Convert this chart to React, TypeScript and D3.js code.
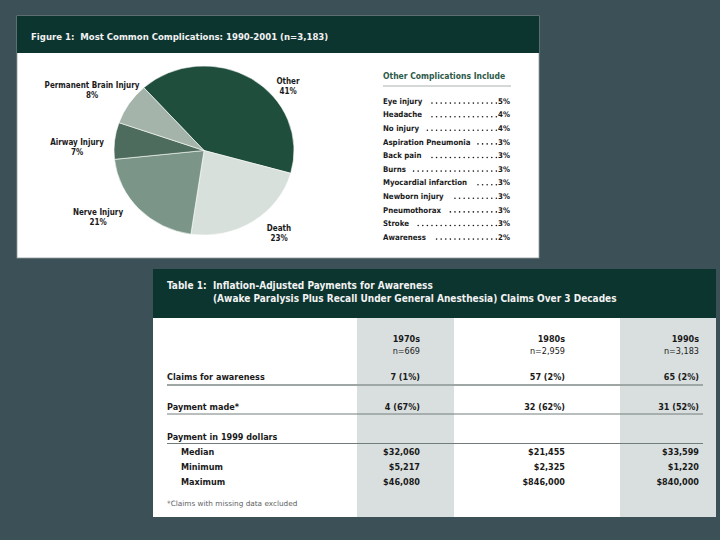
import { useEffect, useRef } from 'react';
import * as d3 from 'd3';

// pie data
const sliceNames = ['Other', 'Death', 'Nerve Injury', 'Airway Injury', 'Permanent Brain Injury'];
const sliceValues = [41, 23, 21, 7, 8];
const sliceColors = ['#1f4e3d', '#d7e0db', '#7b9688', '#4d6c5d', '#a4b4aa'];

// other complications list
const otherNames = [
  'Eye injury', 'Headache', 'No injury', 'Aspiration Pneumonia', 'Back pain', 'Burns',
  'Myocardial infarction', 'Newborn injury', 'Pneumothorax', 'Stroke', 'Awareness'
];
const otherValues = [5, 4, 4, 3, 3, 3, 3, 3, 3, 3, 2];

// table data
const decades = ['1970s', '1980s', '1990s'];
const decadeN = ['n=669', 'n=2,959', 'n=3,183'];
const claims = ['7 (1%)', '57 (2%)', '65 (2%)'];
const payments = ['4 (67%)', '32 (62%)', '31 (52%)'];
const medians = ['$32,060', '$21,455', '$33,599'];
const minimums = ['$5,217', '$2,325', '$1,220'];
const maximums = ['$46,080', '$846,000', '$840,000'];

const W = 720;
const H = 540;
const FONT = '"DejaVu Sans Condensed", "DejaVu Sans", sans-serif';
const FONT_WIDE = '"DejaVu Sans", sans-serif';

// label anchor points around the pie (layout only)
const labelAnchors: [number, number][] = [
  [288, 81], [279, 228], [98, 212], [77, 142], [92, 85]
];

export default function App() {
  const svgRef = useRef<SVGSVGElement>(null);

  useEffect(() => {
    if (!svgRef.current) return;
    const svg = d3.select(svgRef.current);
    svg.selectAll('*').remove();

    svg.append('rect').attr('width', W).attr('height', H).attr('fill', '#3c5157');

    // ---------- Figure 1 panel ----------
    const fig = { x: 17, y: 16, w: 522, h: 242, head: 37 };
    svg.append('rect')
      .attr('x', fig.x).attr('y', fig.y).attr('width', fig.w).attr('height', fig.h)
      .attr('fill', '#ffffff').attr('stroke', '#8f9a9a').attr('stroke-width', 0.8);
    svg.append('rect')
      .attr('x', fig.x).attr('y', fig.y).attr('width', fig.w).attr('height', fig.head)
      .attr('fill', '#0d3530');
    svg.append('text')
      .attr('x', 31).attr('y', 39.5)
      .attr('font-family', FONT).attr('font-weight', 'bold').attr('font-size', 9.5)
      .attr('fill', '#f2f2f2')
      .attr('xml:space', 'preserve')
      .text('Figure 1:  Most Common Complications: 1990-2001 (n=3,183)');

    // pie
    const cx = 204, cy = 150.5, r = 90;
    const startA = -42 * Math.PI / 180;
    const pie = d3.pie<number>().sort(null).value(d => d)
      .startAngle(startA).endAngle(startA + 2 * Math.PI);
    const arc = d3.arc<d3.PieArcDatum<number>>().innerRadius(0).outerRadius(r);
    const pg = svg.append('g').attr('transform', `translate(${cx},${cy}) scale(1,0.94)`);
    pg.selectAll('path')
      .data(pie(sliceValues))
      .enter()
      .append('path')
      .attr('d', arc)
      .attr('fill', (_, i) => sliceColors[i])
      .attr('stroke', '#ffffff')
      .attr('stroke-width', 0.6);

    const lg = svg.append('g')
      .attr('font-family', FONT).attr('font-weight', 'bold').attr('font-size', 8)
      .attr('fill', '#1a1a1a').attr('text-anchor', 'middle');
    sliceNames.forEach((name, i) => {
      const [lx, ly] = labelAnchors[i];
      lg.append('text').attr('x', lx).attr('y', ly + 3).text(name);
      lg.append('text').attr('x', lx).attr('y', ly + 13).text(`${sliceValues[i]}%`);
    });

    // other complications list
    const lx0 = 383, lx1 = 510;
    svg.append('text')
      .attr('x', lx0).attr('y', 79)
      .attr('font-family', FONT).attr('font-weight', 'bold').attr('font-size', 8.5)
      .attr('fill', '#2c5a49')
      .text('Other Complications Include');
    svg.append('line')
      .attr('x1', lx0).attr('x2', lx1 + 1).attr('y1', 86).attr('y2', 86)
      .attr('stroke', '#a9b2b0').attr('stroke-width', 1);

    const yList = d3.scalePoint<string>().domain(otherNames).range([101, 237]);
    const items = svg.append('g')
      .attr('font-family', FONT).attr('font-weight', 'bold').attr('font-size', 7.8)
      .attr('fill', '#1a1a1a');
    otherNames.forEach((name, i) => {
      const y = (yList(name) ?? 0) + 2.8;
      const t = items.append('text').attr('x', lx0).attr('y', y).text(name);
      const v = items.append('text').attr('x', lx1).attr('y', y)
        .attr('text-anchor', 'end').text(`${otherValues[i]}%`);
      const nameEnd = lx0 + (t.node() as SVGTextElement).getComputedTextLength() + 3;
      const valStart = lx1 - (v.node() as SVGTextElement).getComputedTextLength() - 1;
      const n = Math.floor((valStart - nameEnd) / 4.6);
      d3.range(n).forEach(k => {
        items.append('circle')
          .attr('cx', valStart - 0.7 - k * 4.6)
          .attr('cy', y - 0.7)
          .attr('r', 0.8)
          .attr('fill', '#1a1a1a');
      });
    });

    // ---------- Table 1 panel ----------
    const tb = { x: 153, y: 269, w: 563, h: 248, head: 49 };
    svg.append('rect')
      .attr('x', tb.x).attr('y', tb.y).attr('width', tb.w).attr('height', tb.h)
      .attr('fill', '#ffffff');
    svg.append('rect')
      .attr('x', tb.x).attr('y', tb.y).attr('width', tb.w).attr('height', tb.head)
      .attr('fill', '#0c3530');
    const th = svg.append('g')
      .attr('font-family', FONT).attr('font-weight', 'bold').attr('font-size', 10)
      .attr('fill', '#f2f2f2');
    th.append('text').attr('x', 167).attr('y', 288.5).text('Table 1:');
    th.append('text').attr('x', 213).attr('y', 288.5).text('Inflation-Adjusted Payments for Awareness');
    th.append('text').attr('x', 213).attr('y', 301.5)
      .text('(Awake Paralysis Plus Recall Under General Anesthesia) Claims Over 3 Decades');

    // shaded columns
    const bodyTop = tb.y + tb.head;
    const colBands: [number, number][] = [[357, 454], [454, 620], [620, 716]];
    const colRight = [420, 565, 699];
    const colX = d3.scaleOrdinal<string, number>().domain(decades).range(colRight);
    decades.forEach((d, i) => {
      if (i === 1) return;
      svg.append('rect')
        .attr('x', colBands[i][0]).attr('y', bodyTop)
        .attr('width', colBands[i][1] - colBands[i][0]).attr('height', tb.y + tb.h - bodyTop)
        .attr('fill', '#d9dfdf');
    });

    const body = svg.append('g').attr('font-family', FONT).attr('fill', '#1a1a1a');
    const rowText = (x: number, y: number, s: string, bold: boolean, anchor = 'start', size = 9) =>
      body.append('text')
        .attr('x', x).attr('y', y + 3.2)
        .attr('font-size', size)
        .attr('font-weight', bold ? 'bold' : 'normal')
        .attr('text-anchor', anchor)
        .text(s);

    decades.forEach((d, i) => {
      rowText(colX(d), 339, d, true, 'end');
      rowText(colX(d), 350.5, decadeN[i], false, 'end');
      rowText(colX(d), 377, claims[i], true, 'end');
      rowText(colX(d), 407, payments[i], true, 'end');
      rowText(colX(d), 452, medians[i], true, 'end');
      rowText(colX(d), 467, minimums[i], true, 'end');
      rowText(colX(d), 482, maximums[i], true, 'end');
    });

    rowText(167, 377, 'Claims for awareness', true);
    rowText(167, 407, 'Payment made*', true);
    rowText(167, 437, 'Payment in 1999 dollars', true);
    rowText(181, 452, 'Median', true);
    rowText(181, 467, 'Minimum', true);
    rowText(181, 482, 'Maximum', true);
    rowText(167, 503, '*Claims with missing data excluded', false, 'start', 7.3)
      .attr('font-family', FONT_WIDE)
      .attr('fill', '#5e6464');

    const rule = (y: number, w: number, c: string) =>
      svg.append('line')
        .attr('x1', 167).attr('x2', 703).attr('y1', y).attr('y2', y)
        .attr('stroke', c).attr('stroke-width', w);
    rule(385, 2, '#9ea7a6');
    rule(414, 1, '#727c7c');
    rule(443.5, 1, '#727c7c');
  }, []);

  return (
    <svg
      ref={svgRef}
      width={W}
      height={H}
      style={{ position: 'absolute', left: 0, top: 0, display: 'block' }}
    />
  );
}
